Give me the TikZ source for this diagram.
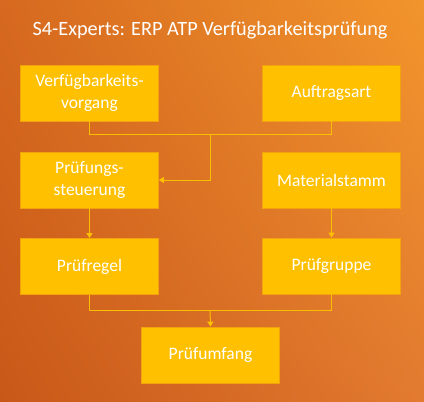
\documentclass[tikz,border=0pt]{standalone}
\usepackage{fontspec}
\setmainfont{Carlito}
\usetikzlibrary{shadings,arrows.meta}
\definecolor{boxfill}{HTML}{FFC000}
\definecolor{boxline}{HTML}{F2A20C}
\definecolor{bgll}{HTML}{C85818}
\definecolor{bgur}{HTML}{F2952C}
\definecolor{bgul}{HTML}{D6691F}
\definecolor{bglr}{HTML}{E27A30}
\tikzset{
  stepbox/.style={draw=boxline, line width=0.8pt, fill=boxfill, minimum width=138pt, minimum height=56pt, inner sep=0pt, align=center, text=white, font=\fontsize{17.5}{21.5}\selectfont},
  conn/.style={draw=boxfill, line width=1pt},
  arr/.style={conn, -{Triangle[width=6pt,length=5pt]}},
}
\begin{document}
\begin{tikzpicture}[x=1pt,y=-1pt]
\shade[upper left=bgul, upper right=bgur, lower left=bgll, lower right=bglr] (0,0) rectangle (424,402);
\useasboundingbox (0,0) rectangle (424,402);
\node[text=white, font=\fontsize{20.3}{24}\selectfont] (title) at (210,30) {S4-Experts: ERP ATP Verfügbarkeitsprüfung};
\node[stepbox] (vv) at (89.5,93) {Verfügbarkeits-\\vorgang};
\node[stepbox] (aa) at (331.5,93) {Auftragsart};
\node[stepbox] (ps) at (89.5,180) {Prüfungs-\\steuerung};
\node[stepbox] (ms) at (331.5,180) {Materialstamm};
\node[stepbox] (pr) at (89.5,266.5) {Prüfregel};
\node[stepbox] (pg) at (331.5,266) {Prüfgruppe};
\node[stepbox] (pu) at (210.5,355) {Prüfumfang};
\coordinate (j1) at (210,134);
\coordinate (j2) at (210,310);
\draw[conn] (vv.south) |- (j1);
\draw[conn] (aa.south) |- (j1);
\draw[arr] (j1) |- (ps.east);
\draw[arr] (ps.south) -- (pr.north);
\draw[arr] (ms.south) -- (pg.north);
\draw[conn] (pr.south) |- (j2);
\draw[conn] (pg.south) |- (j2);
\draw[arr] (j2) -- (pu.north);
\end{tikzpicture}
\end{document}
